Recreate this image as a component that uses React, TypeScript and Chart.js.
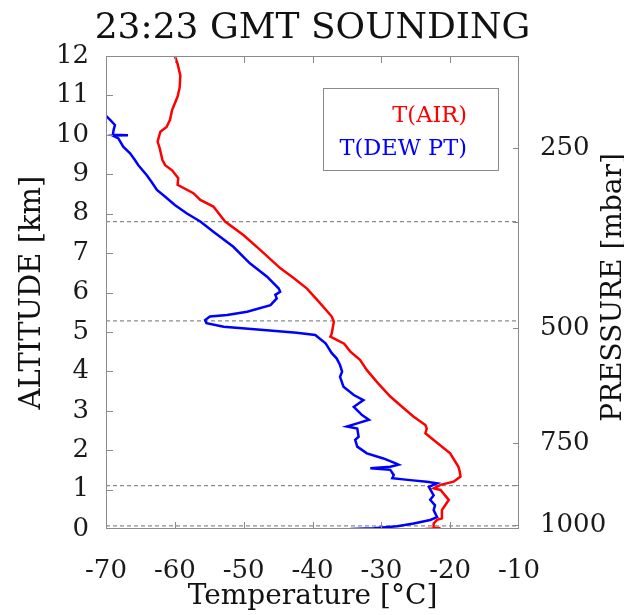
import React, { useEffect, useRef } from "react";
import { Chart, registerables } from "chart.js";

Chart.register(...registerables);

const TITLE = "23:23 GMT SOUNDING";
const X_TITLE = "Temperature [°C]";
const Y_TITLE = "ALTITUDE [km]";
const Y2_TITLE = "PRESSURE [mbar]";
const SERIES_LABELS = ["T(AIR)", "T(DEW PT)"];
const SERIES_COLORS = ["#ff0000", "#0000ff"];

const X_MIN = -70;
const X_MAX = -10;
const Y_MIN = 0;
const Y_MAX = 12;

// Air temperature profile (°C) vs altitude (km)
const AIR_T = [
  -23.6, -21.4, -22.4, -22.4, -21.9, -21.2, -21.2, -20.7, -20.2, -21.4, -22.4, -21.4,
  -19.5, -18.5, -18.6, -18.8, -20.0, -22.4, -23.6, -23.4, -23.6, -25.3, -27.0, -28.7,
  -30.5, -32.1, -33.1, -34.5, -35.4, -37.4, -37.2, -36.9, -37.2, -39.0, -40.8, -42.6,
  -44.7, -47.6, -50.0, -52.7, -54.4, -56.3, -57.3, -59.6, -59.5, -60.4, -61.4, -61.8,
  -62.2, -62.5, -62.1, -61.2, -60.7, -60.4, -59.6, -59.3, -59.2, -59.6, -60.0,
];
const AIR_ALT = [
  0.0, 0.02, 0.03, 0.14, 0.23, 0.27, 0.48, 0.61, 0.74, 0.99, 1.03, 1.12,
  1.2, 1.33, 1.45, 1.58, 1.92, 2.26, 2.43, 2.55, 2.64, 2.85, 3.1, 3.36,
  3.7, 4.03, 4.29, 4.5, 4.7, 4.88, 4.96, 5.26, 5.39, 5.75, 6.1, 6.35,
  6.62, 7.08, 7.45, 7.8, 8.18, 8.35, 8.52, 8.73, 8.9, 9.1, 9.23, 9.36,
  9.66, 9.83, 10.08, 10.2, 10.38, 10.63, 10.97, 11.2, 11.5, 11.8, 12.0,
];

// Dew point temperature profile (°C) vs altitude (km)
const DEW_T = [
  -34.5, -31.1, -27.7, -25.3, -22.9, -21.9, -22.4, -22.2, -22.9, -22.4, -23.1, -21.9,
  -23.4, -25.8, -28.4, -28.2, -28.7, -31.6, -28.7, -27.5, -28.0, -29.7, -32.1, -33.5,
  -33.8, -33.3, -33.5, -35.0, -33.5, -31.8, -32.8, -34.0, -32.6, -34.0, -35.5, -36.0,
  -35.7, -36.0, -36.5, -37.2, -38.1, -39.6, -42.3, -47.1, -52.9, -55.4, -55.6, -54.9,
  -52.4, -49.5, -46.1, -45.2, -45.4, -44.7, -44.9, -46.6, -49.1, -51.5, -54.4, -56.3,
  -58.3, -60.0, -61.4, -62.6, -63.4, -64.1, -65.3, -65.8, -66.5, -67.5, -68.2, -69.0,
  -66.8, -69.0, -68.9, -68.7, -69.4, -70.1,
];
const DEW_ALT = [
  0.0, 0.02, 0.07, 0.14, 0.23, 0.3, 0.48, 0.6, 0.74, 0.85, 1.07, 1.16,
  1.2, 1.24, 1.29, 1.37, 1.5, 1.54, 1.58, 1.63, 1.67, 1.79, 1.92, 2.09,
  2.26, 2.34, 2.55, 2.6, 2.68, 2.77, 2.89, 3.1, 3.27, 3.4, 3.61, 3.86,
  3.99, 4.16, 4.33, 4.46, 4.71, 4.92, 4.98, 5.05, 5.13, 5.22, 5.3, 5.39,
  5.43, 5.51, 5.68, 5.85, 5.94, 6.02, 6.1, 6.4, 6.74, 7.16, 7.54, 7.8,
  8.01, 8.22, 8.43, 8.6, 8.81, 8.98, 9.23, 9.36, 9.53, 9.7, 9.91, 9.98,
  9.99, 10.0, 10.12, 10.25, 10.38, 10.5,
];

// Right-hand pressure axis (altitude positions and labels)
const PRESSURE_TICK_ALT = [9.67, 7.8, 5.1, 2.18, 1.12, 0.1];
const PRESSURE_TICK_LABELS = ["250", "", "500", "750", "", "1000"];

// Dashed reference levels (km)
const DASHED_ALT = [7.8, 5.28, 1.1, 0.08];

const FONT = "'DejaVu Serif', serif";

const toPoints = (xs: number[], ys: number[]) => xs.map((x, i) => ({ x, y: ys[i] }));

const decorPlugin = {
  id: "decor",
  afterDraw(chart: any) {
    const { ctx, chartArea: a, scales } = chart;
    ctx.save();
    // Frame
    ctx.strokeStyle = "#8a8a8a";
    ctx.lineWidth = 1;
    ctx.strokeRect(Math.round(a.left) + 0.5, Math.round(a.top) + 0.5, Math.round(a.right - a.left) - 1, Math.round(a.bottom - a.top) - 1);
    // Inward ticks
    ctx.beginPath();
    for (const t of scales.x.ticks) {
      if (t.value <= X_MIN || t.value >= X_MAX) continue;
      const px = Math.round(scales.x.getPixelForValue(t.value)) + 0.5;
      ctx.moveTo(px, a.bottom);
      ctx.lineTo(px, a.bottom - 7);
      ctx.moveTo(px, a.top);
      ctx.lineTo(px, a.top + 7);
    }
    for (const t of scales.y.ticks) {
      if (t.value <= Y_MIN || t.value >= Y_MAX) continue;
      const py = Math.round(scales.y.getPixelForValue(t.value)) + 0.5;
      ctx.moveTo(a.left, py);
      ctx.lineTo(a.left + 7, py);
    }
    for (const t of scales.y2.ticks) {
      const py = Math.round(scales.y2.getPixelForValue(t.value)) + 0.5;
      ctx.moveTo(a.right, py);
      ctx.lineTo(a.right - 6, py);
    }
    ctx.stroke();

    // Legend box
    ctx.fillStyle = "#ffffff";
    ctx.fillRect(323, 88, 175, 82);
    ctx.strokeStyle = "#8a8a8a";
    ctx.strokeRect(323.5, 88.5, 175, 82);
    ctx.font = `22.5px ${FONT}`;
    ctx.textAlign = "right";
    ctx.textBaseline = "alphabetic";
    ctx.fillStyle = SERIES_COLORS[0];
    ctx.fillText(SERIES_LABELS[0], 467, 121.5);
    ctx.fillStyle = SERIES_COLORS[1];
    ctx.fillText(SERIES_LABELS[1], 467, 155);

    // Titles
    const cx = (a.left + a.right) / 2;
    ctx.fillStyle = "#111111";
    ctx.textAlign = "center";
    ctx.font = `36px ${FONT}`;
    ctx.fillText(TITLE, cx, 37.5);
    ctx.font = `28px ${FONT}`;
    ctx.fillText(X_TITLE, cx, 604);
    const cy = (a.top + a.bottom) / 2;
    ctx.save();
    ctx.translate(40, cy);
    ctx.rotate(-Math.PI / 2);
    ctx.font = `29px ${FONT}`;
    ctx.fillText(Y_TITLE, 0, 0);
    ctx.restore();
    ctx.save();
    ctx.translate(621, cy - 5);
    ctx.rotate(-Math.PI / 2);
    ctx.font = `28px ${FONT}`;
    ctx.fillText(Y2_TITLE, 0, 0);
    ctx.restore();
    ctx.restore();
  },
};

export default function App() {
  const ref = useRef<HTMLCanvasElement | null>(null);
  useEffect(() => {
    if (!ref.current) return;
    const dashed = DASHED_ALT.map((alt) => ({
      data: [
        { x: X_MIN, y: alt },
        { x: X_MAX, y: alt },
      ],
      borderColor: "#8c8c8c",
      borderWidth: 1.2,
      borderDash: [4, 3],
      pointRadius: 0,
      showLine: true,
      yAxisID: "y",
    }));
    const chart = new Chart(ref.current, {
      type: "scatter",
      data: {
        datasets: [
          {
            label: SERIES_LABELS[0],
            data: toPoints(AIR_T, AIR_ALT),
            borderColor: SERIES_COLORS[0],
            backgroundColor: SERIES_COLORS[0],
            borderWidth: 2.5,
            pointRadius: 0,
            showLine: true,
            yAxisID: "y",
          },
          {
            label: SERIES_LABELS[1],
            data: toPoints(DEW_T, DEW_ALT),
            borderColor: SERIES_COLORS[1],
            backgroundColor: SERIES_COLORS[1],
            borderWidth: 2.5,
            pointRadius: 0,
            showLine: true,
            yAxisID: "y",
          },
          ...dashed,
        ] as any,
      },
      options: {
        responsive: false,
        animation: false,
        devicePixelRatio: 1,
        layout: { padding: { top: 56, left: 0, right: 0, bottom: 0 } },
        plugins: { legend: { display: false }, title: { display: false }, tooltip: { enabled: false } },
        scales: {
          x: {
            type: "linear",
            position: "bottom",
            min: X_MIN,
            max: X_MAX,
            grid: { display: false },
            border: { display: false },
            ticks: {
              stepSize: 10,
              autoSkip: false,
              maxRotation: 0,
              padding: 19,
              color: "#1a1a1a",
              font: { family: FONT, size: 26 },
            },
            afterFit: (s: any) => {
              s.height = 86;
            },
          },
          y: {
            type: "linear",
            position: "left",
            min: Y_MIN,
            max: Y_MAX,
            grid: { display: false },
            border: { display: false },
            ticks: {
              stepSize: 1,
              autoSkip: false,
              padding: 9,
              color: "#1a1a1a",
              font: { family: FONT, size: 26 },
            },
            afterFit: (s: any) => {
              s.width = 106;
            },
          },
          y2: {
            type: "linear",
            position: "right",
            min: Y_MIN,
            max: Y_MAX,
            grid: { display: false },
            border: { display: false },
            afterBuildTicks: (s: any) => {
              s.ticks = PRESSURE_TICK_ALT.map((v) => ({ value: v }));
            },
            ticks: {
              autoSkip: false,
              padding: 13,
              color: "#1a1a1a",
              font: { family: FONT, size: 26 },
              callback: (_v: any, i: number) => PRESSURE_TICK_LABELS[i] ?? "",
            },
            afterFit: (s: any) => {
              s.width = 105;
            },
          },
        },
      } as any,
      plugins: [decorPlugin],
    });
    return () => chart.destroy();
  }, []);

  return (
    <div style={{ position: "fixed", left: 0, top: 0, width: 624, height: 615, background: "#ffffff" }}>
      <canvas ref={ref} width={624} height={615} style={{ display: "block" }} />
    </div>
  );
}
